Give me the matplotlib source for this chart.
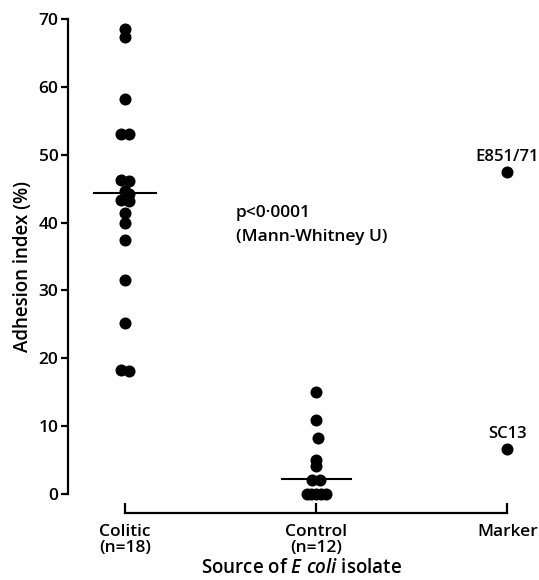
import matplotlib
matplotlib.use("Agg")
import matplotlib.pyplot as plt
import numpy as np

plt.rcParams['font.family'] = ['Open Sans', 'DejaVu Sans']
plt.rcParams['mathtext.fontset'] = 'custom'
plt.rcParams['mathtext.it'] = 'Open Sans:italic:semibold'
plt.rcParams['mathtext.rm'] = 'Open Sans:semibold'

categories = ["Colitic\n(n=18)", "Control\n(n=12)", "Marker"]
colitic = [68.5, 67.4, 58.2, 53.0, 53.0, 46.3, 46.1, 44.6, 44.2, 43.3, 43.2, 41.4, 39.9, 37.4, 31.5, 25.2, 18.3, 18.1]
colitic_dx = [0, 0, 0, -0.02, 0.02, -0.02, 0.02, 0.0, 0.02, -0.02, 0.02, 0.0, 0.0, 0.0, 0.0, 0.0, -0.02, 0.02]
control = [15.0, 10.9, 8.2, 5.0, 4.2, 2.1, 2.1, 0.0, 0.0, 0.0, 0.0, 0.0]
control_dx = [0, 0, 0.01, 0.0, 0.0, -0.02, 0.02, -0.05, -0.025, 0.0, 0.025, 0.05]
marker_names = ["E851/71", "SC13"]
marker_values = [47.4, 6.6]
colitic_median = 44.4
control_median = 2.2

FS = 12.5
W = 'semibold'

fig = plt.figure(figsize=(5.39, 5.80), dpi=100)
ax = fig.add_axes([0.1262, 0.1155, 0.9944 - 0.1262, 0.9672 - 0.1155])

ms = 75
ax.scatter(np.array(colitic_dx) + 0, colitic, s=ms, color='black', zorder=3, linewidths=0)
ax.scatter(np.array(control_dx) + 1, control, s=ms, color='black', zorder=3, linewidths=0)
ax.scatter([2] * len(marker_values), marker_values, s=ms, color='black', zorder=3, linewidths=0)

ax.plot([-0.16, 0.16], [colitic_median] * 2, color='black', lw=1.5, zorder=2)
ax.plot([1 - 0.18, 1 + 0.18], [control_median] * 2, color='black', lw=1.5, zorder=2)

for name, val in zip(marker_names, marker_values):
    ax.text(2, val + 1.7, name, ha='center', va='baseline', fontsize=12, fontweight=W)

ax.text(0.58, 41.4, "p<0·0001", ha='left', va='center', fontsize=FS, fontweight=W)
ax.text(0.58, 37.9, "(Mann-Whitney U)", ha='left', va='center', fontsize=FS, fontweight=W)

ax.set_xlim(-0.298, 2.15)
ax.set_ylim(-2.8, 70)
ax.spines['top'].set_visible(False)
ax.spines['right'].set_visible(False)
ax.spines['left'].set_bounds(0, 70)
ax.spines['bottom'].set_bounds(0, 2)
for s in ['left', 'bottom']:
    ax.spines[s].set_linewidth(1.6)

ax.set_yticks(range(0, 71, 10))
ax.set_yticklabels([str(v) for v in range(0, 71, 10)], fontsize=FS, fontweight=W)
ax.set_xticks([0, 1, 2])
ax.set_xticklabels(categories, fontsize=FS, fontweight=W, linespacing=0.95)
ax.tick_params(axis='y', direction='out', length=5, width=1.6, pad=2)
ax.tick_params(axis='x', direction='in', length=7, width=1.6, pad=8)

ax.set_ylabel("Adhesion index (%)", fontsize=13.5, fontweight=W, labelpad=4)
ax.set_xlabel(r"Source of $\it{E\ coli}$ isolate", fontsize=13.5, fontweight=W, labelpad=2)

fig.savefig("out.png", dpi=100)
